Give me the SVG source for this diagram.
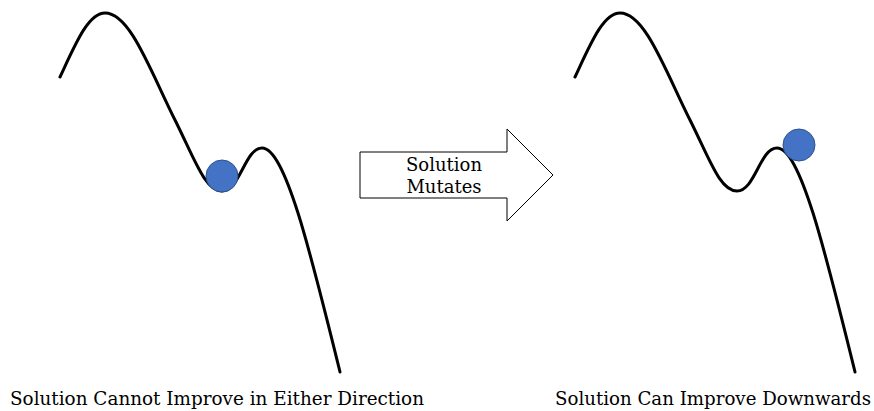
<svg xmlns="http://www.w3.org/2000/svg" width="874" height="411" viewBox="0 0 874 411">
<style>
.curve{fill:none;stroke:#000;stroke-width:3;stroke-linecap:round}
.ball{fill:#4472C4;stroke:#2F528F;stroke-width:1}
.lbl{font-family:"DejaVu Serif","Liberation Serif",serif;font-size:18px;fill:#000}
</style>
<rect width="874" height="411" fill="#fff"/>
<defs>
<path id="land" d="M60,77 C75,45 88,13 105,13 C130,13 150,70 175,120 C195,160 205,191 222,191 C240,191 245,148 262,148 C285,148 310,250 340,372"/>
</defs>
<g id="left-landscape">
<use href="#land" class="curve"/>
<circle class="ball" cx="222" cy="176" r="16"/>
<text class="lbl" x="217" y="405" text-anchor="middle" textLength="414" lengthAdjust="spacingAndGlyphs">Solution Cannot Improve in Either Direction</text>
</g>
<g id="mutate-arrow">
<polygon points="360,152 507,152 507,129 553,175 507,221 507,198 360,198" fill="#fff" stroke="#000" stroke-width="1"/>
<text class="lbl" x="444" y="171" text-anchor="middle">Solution</text>
<text class="lbl" x="444" y="193" text-anchor="middle">Mutates</text>
</g>
<g id="right-landscape">
<use href="#land" class="curve" transform="translate(515,0)"/>
<circle class="ball" cx="799" cy="145" r="16"/>
<text class="lbl" x="713" y="405" text-anchor="middle" textLength="316" lengthAdjust="spacingAndGlyphs">Solution Can Improve Downwards</text>
</g>
<g id="connectors"></g>
</svg>
